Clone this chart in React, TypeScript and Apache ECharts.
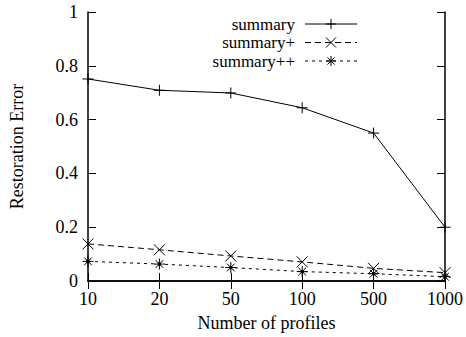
import React, { useEffect, useRef } from "react";
import * as echarts from "echarts";

const categories = ["10", "20", "50", "100", "500", "1000"];
const seriesNames = ["summary", "summary+", "summary++"];
const summary = [0.751, 0.709, 0.699, 0.644, 0.55, 0.2];
const summaryPlus = [0.138, 0.116, 0.093, 0.071, 0.047, 0.031];
const summaryPlusPlus = [0.073, 0.063, 0.05, 0.035, 0.027, 0.016];

const FONT = "Liberation Serif";
const FS = 18;
const LFS = 17;
const PLUS = "path://M0,5L10,5M5,0L5,10";
const CROSS = "path://M0,0L10,10M10,0L0,10";
const STAR = "path://M0,5L10,5M5,0L5,10M1.5,1.5L8.5,8.5M8.5,1.5L1.5,8.5M4,4L6,4L6,6L4,6Z";

const dashes: any[] = ["solid", [6, 4], [3, 4]];

function legendMarker(kind: number, cx: number, cy: number) {
  const r = 5;
  const st = { stroke: "#000", lineWidth: 1 };
  const ln = (x1: number, y1: number, x2: number, y2: number) => ({
    type: "line",
    shape: { x1, y1, x2, y2 },
    style: st,
  });
  const parts: any[] = [];
  if (kind === 0 || kind === 2) {
    parts.push(ln(cx - r, cy, cx + r, cy), ln(cx, cy - r, cx, cy + r));
  }
  if (kind === 1) {
    parts.push(ln(cx - r, cy - r, cx + r, cy + r), ln(cx + r, cy - r, cx - r, cy + r));
  }
  if (kind === 2) {
    const d = 3.6;
    parts.push(ln(cx - d, cy - d, cx + d, cy + d), ln(cx + d, cy - d, cx - d, cy + d));
    parts.push({ type: "rect", shape: { x: cx - 1.2, y: cy - 1.2, width: 2.4, height: 2.4 }, style: { fill: "#000" } });
  }
  return parts;
}

export default function App() {
  const ref = useRef<HTMLDivElement>(null);
  useEffect(() => {
    if (!ref.current) return;
    const chart = echarts.init(ref.current, null, { renderer: "svg" });
    const mk = (name: string, data: number[], symbol: string, type: any, size: number) => ({
      name,
      type: "line",
      data,
      symbol,
      symbolSize: size,
      showAllSymbol: true,
      lineStyle: { color: "#000", width: 1, type },
      itemStyle: { color: "#000", borderColor: "#000", borderWidth: 1 },
      emphasis: { disabled: true },
    });
    const rowsY = [24, 42.5, 61];
    const legendEls: any[] = [];
    seriesNames.forEach((n, i) => {
      const y = rowsY[i];
      legendEls.push({
        type: "text",
        x: 295,
        y,
        style: { text: n, fill: "#000", font: `${LFS}px ${FONT}`, align: "right", verticalAlign: "middle" },
      });
      legendEls.push({
        type: "line",
        shape: { x1: 305, y1: y, x2: 357, y2: y },
        style: { stroke: "#000", lineWidth: 1, lineDash: i === 0 ? null : dashes[i] },
      });
      legendEls.push(...legendMarker(i, 331, y));
    });
    const axisTxt = { fontFamily: FONT, fontSize: FS, color: "#000" };
    const axLine = { show: true, lineStyle: { color: "#000", width: 1.5 } };
    chart.setOption({
      animation: false,
      textStyle: { fontFamily: FONT, color: "#000" },
      grid: { left: 88, right: 15, top: 12, bottom: 56 },
      graphic: legendEls,
      xAxis: [
        {
          type: "category",
          data: categories,
          boundaryGap: false,
          name: "Number of profiles",
          nameLocation: "middle",
          nameGap: 33,
          nameTextStyle: axisTxt,
          axisLine: axLine,
          axisTick: { inside: true, length: 8, lineStyle: { color: "#000" } },
          axisLabel: { ...axisTxt, margin: 9 },
          splitLine: { show: false },
        },
        {
          type: "category",
          data: categories,
          boundaryGap: false,
          position: "top",
          axisLine: axLine,
          axisTick: { inside: true, length: 8, lineStyle: { color: "#000" } },
          axisLabel: { show: false },
          splitLine: { show: false },
        },
      ],
      yAxis: [
        {
          type: "value",
          min: 0,
          max: 1,
          interval: 0.2,
          name: "Restoration Error",
          nameLocation: "middle",
          nameGap: 62,
          nameTextStyle: axisTxt,
          axisLine: axLine,
          axisTick: { show: true, inside: true, length: 8, lineStyle: { color: "#000" } },
          axisLabel: {
            ...axisTxt,
            margin: 10,
            formatter: (v: number) => String(Math.round(v * 10) / 10),
          },
          splitLine: { show: false },
        },
        {
          type: "value",
          min: 0,
          max: 1,
          interval: 0.2,
          position: "right",
          axisLine: axLine,
          axisTick: { show: true, inside: true, length: 8, lineStyle: { color: "#000" } },
          axisLabel: { show: false },
          splitLine: { show: false },
        },
      ],
      series: [
        mk(seriesNames[0], summary, PLUS, dashes[0], 11),
        mk(seriesNames[1], summaryPlus, CROSS, dashes[1], 11),
        mk(seriesNames[2], summaryPlusPlus, STAR, dashes[2], 11),
      ],
    });
    return () => chart.dispose();
  }, []);
  return <div ref={ref} style={{ width: 466, height: 337, position: "absolute", left: 0, top: 0 }} />;
}
